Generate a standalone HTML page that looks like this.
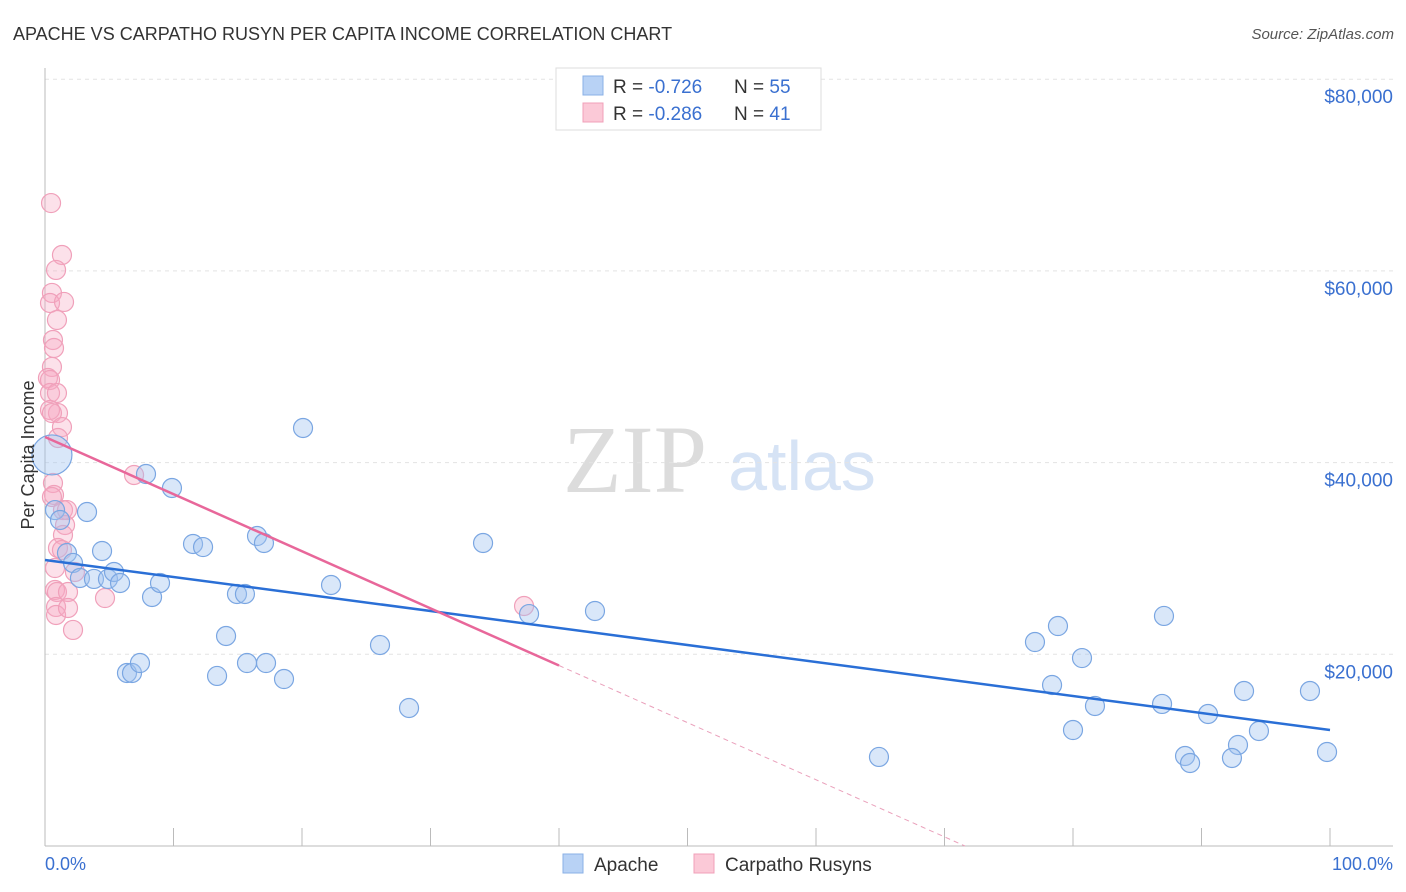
<!DOCTYPE html>
<html><head><meta charset="utf-8"><style>
body{margin:0;background:#fff;font-family:"Liberation Sans",sans-serif}
svg{display:block}
</style></head><body>
<svg id="chart" width="1406" height="892">
<text x="13" y="40" font-size="18" fill="#333">APACHE VS CARPATHO RUSYN PER CAPITA INCOME CORRELATION CHART</text>
<text x="1394" y="39" font-size="15" fill="#555" font-style="italic" text-anchor="end">Source: ZipAtlas.com</text>
<text x="635" y="492" font-size="96" fill="#dcdcdc" font-family="Liberation Serif,serif" text-anchor="middle">ZIP</text>
<text x="802" y="490" font-size="70" fill="#d6e3f5" text-anchor="middle">atlas</text>
<g id="grid"></g>
<g id="pts"></g>
<g id="lines"></g>
<text transform="translate(34,455) rotate(-90)" font-size="18" fill="#333" text-anchor="middle">Per Capita Income</text>
<text x="45" y="870" font-size="18" fill="#3a70d0">0.0%</text>
<text x="1393" y="870" font-size="18" fill="#3a70d0" text-anchor="end">100.0%</text>
<g>
<rect x="556" y="68" width="265" height="62" fill="#fff" stroke="#ddd"/>
<rect x="583" y="76" width="20" height="19" fill="#b8d2f5" stroke="#8ab0e6"/>
<rect x="583" y="103" width="20" height="19" fill="#fbc9d7" stroke="#f0a0b8"/>
<text x="613" y="93" font-size="19" fill="#333">R = <tspan fill="#3a70d0">-0.726</tspan></text>
<text x="734" y="93" font-size="19" fill="#333">N = <tspan fill="#3a70d0">55</tspan></text>
<text x="613" y="120" font-size="19" fill="#333">R = <tspan fill="#3a70d0">-0.286</tspan></text>
<text x="734" y="120" font-size="19" fill="#333">N = <tspan fill="#3a70d0"> 41</tspan></text>
</g>
<g>
<rect x="563" y="854" width="20" height="19" fill="#b8d2f5" stroke="#8ab0e6"/>
<text x="594" y="871" font-size="19" fill="#333">Apache</text>
<rect x="694" y="854" width="20" height="19" fill="#fbc9d7" stroke="#f0a0b8"/>
<text x="725" y="871" font-size="19" fill="#333">Carpatho Rusyns</text>
</g>
</svg>
<script>
const yTicks=[20000,40000,60000,80000];
const yTickLabels=["$20,000","$40,000","$60,000","$80,000"];
const xTicks=[0,10,20,30,40,50,60,70,80,90,100];
const apacheX=[0.54,0.78,1.17,3.27,1.71,2.18,4.44,2.72,3.81,4.90,5.37,5.84,8.33,8.95,7.86,9.88,6.38,6.77,7.39,11.52,12.30,14.09,13.39,14.94,15.56,15.72,16.50,17.04,17.20,18.60,20.08,22.26,26.07,28.33,34.09,37.67,42.80,64.90,77.04,78.83,78.37,80.00,80.70,81.71,87.08,86.93,88.72,89.11,90.51,92.84,92.37,93.31,94.47,98.44,99.77];
const apacheY=[40800,35050,34010,34850,30570,29530,30780,27960,27860,27860,28590,27440,25980,27440,38810,37350,18050,18050,19090,31510,31190,21910,17740,26290,26290,19090,32340,31610,19090,17420,43610,27230,20970,14400,31610,24200,24520,9290,21280,22950,16800,12100,19610,14610,24000,14820,9390,8660,13770,10540,9180,16170,12000,16170,9810];
const carpX=[0.47,1.32,0.86,0.54,0.39,1.48,0.93,0.62,0.70,0.54,0.23,0.39,0.39,0.93,1.01,0.39,0.54,1.32,1.01,0.62,0.70,0.54,1.40,1.71,1.56,1.40,1.01,1.32,0.78,2.33,0.78,0.93,1.79,0.86,0.86,1.79,2.18,4.67,6.93,37.28];
const carpY=[67080,61660,60100,57700,56650,56760,54880,52790,51960,49980,48830,48620,47260,47260,45170,45490,45170,43710,42570,37870,36620,36410,35050,35050,33490,32450,31090,30880,29000,28590,26710,26500,26500,24940,24100,24830,22540,25870,38710,25040];
const apacheTrend=[29840,12100];
const carpTrend=[42670,-596];
const carpSolidEnd=40;

const NS="http://www.w3.org/2000/svg";
const X=v=>45+v*12.85;
const Y=v=>846-v/20000*191.7;
function mk(tag,attrs,parent){const e=document.createElementNS(NS,tag);for(const k in attrs)e.setAttribute(k,attrs[k]);parent.appendChild(e);return e;}
const grid=document.getElementById('grid');
yTicks.forEach((t,i)=>{
  const l=mk('line',{x1:45,x2:1393,y1:Y(t),y2:Y(t),stroke:'#e3e3e3','stroke-dasharray':'4,4'},grid);
  
  
  const tx=mk('text',{x:1393,y:Y(t)+24,'font-size':19,fill:'#3a70d0','text-anchor':'end'},grid);
  tx.textContent=yTickLabels[i];
  
  
});
let ax=mk('line',{x1:45,x2:45,y1:68,y2:846,stroke:'#bbb'},grid);


ax=mk('line',{x1:45,x2:1393,y1:846,y2:846,stroke:'#bbb'},grid);


xTicks.forEach(t=>{
  const l=mk('line',{x1:X(t),x2:X(t),y1:828,y2:846,stroke:'#bbb'},grid);
  
  
});
const pts=document.getElementById('pts');
carpX.forEach((x,i)=>{
  const c=mk('circle',{cx:X(x),cy:Y(carpY[i]),r:9.5,fill:'rgba(246,170,196,0.35)',stroke:'#f0a0ba','stroke-width':1.2},pts);
  
  
});
apacheX.forEach((x,i)=>{
  const c=mk('circle',{cx:X(x),cy:Y(apacheY[i]),r:i===0?20:9.5,fill:'rgba(160,195,240,0.4)',stroke:'#7aa6e2','stroke-width':1.2},pts);
  
  
});
const lines=document.getElementById('lines');
let t=mk('line',{x1:X(0),y1:Y(apacheTrend[0]),x2:X(100),y2:Y(apacheTrend[1]),stroke:'#2a6fd6','stroke-width':2.5},lines);


const cy=x=>carpTrend[0]+carpTrend[1]*x;
t=mk('line',{x1:X(0),y1:Y(cy(0)),x2:X(carpSolidEnd),y2:Y(cy(carpSolidEnd)),stroke:'#e8679a','stroke-width':2.5},lines);


const xEnd=-carpTrend[0]/carpTrend[1];
t=mk('line',{x1:X(carpSolidEnd),y1:Y(cy(carpSolidEnd)),x2:X(xEnd),y2:Y(0),stroke:'#eaa0bb','stroke-width':1,'stroke-dasharray':'5,4'},lines);


</script>
</body></html>
